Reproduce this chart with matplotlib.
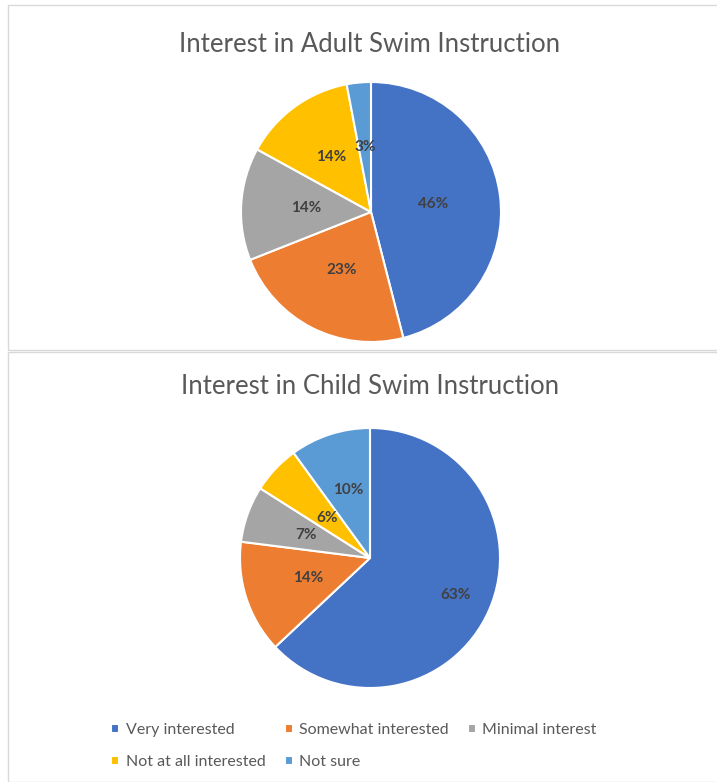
# Deux camemberts empilés : intérêt pour les cours de natation (adultes / enfants)
import numpy as np
import matplotlib.pyplot as plt
from matplotlib.patches import Rectangle

plt.rcParams['font.family'] = ['Lato', 'DejaVu Sans']

categories = ['Very interested', 'Somewhat interested', 'Minimal interest',
              'Not at all interested', 'Not sure']
adult_values = [46, 23, 14, 14, 3]
child_values = [63, 14, 7, 6, 10]
titles = ['Interest in Adult Swim Instruction', 'Interest in Child Swim Instruction']

colors = ['#4472C4', '#ED7D31', '#A5A5A5', '#FFC000', '#5B9BD5']
label_color = '#404040'

fig = plt.figure(figsize=(7.17, 7.82), dpi=100)
W, H = 717, 782

# cadres gris clair des deux graphiques
fig.patches.append(Rectangle((8 / W, 1 - 350 / H), 720 / W, 345 / H, transform=fig.transFigure,
                             fill=False, edgecolor='#d9d9d9', linewidth=1))
fig.patches.append(Rectangle((8 / W, 0), 720 / W, 1 - 352 / H, transform=fig.transFigure,
                             fill=False, edgecolor='#d9d9d9', linewidth=1))


def draw_pie(box, values, title, title_y, label_dist):
    ax = fig.add_axes(box)
    wedges, _ = ax.pie(values, colors=colors, startangle=90, counterclock=False,
                       wedgeprops=dict(edgecolor='white', linewidth=1.5))
    for w, v, d in zip(wedges, values, label_dist):
        ang = np.deg2rad((w.theta1 + w.theta2) / 2)
        ax.text(d * np.cos(ang), d * np.sin(ang), f'{v}%', ha='center', va='center',
                fontsize=11, fontweight='bold', color=label_color)
    ax.set_xlim(-1, 1)
    ax.set_ylim(-1, 1)
    ax.set_aspect('equal')
    fig.text(370 / W, 1 - title_y / H, title, ha='center', va='center',
             fontsize=18.5, color='#595959')
    return wedges


box_adult = [241 / W, 1 - 342 / H, 260 / W, 260 / H]
box_child = [240 / W, 1 - 688 / H, 260 / W, 260 / H]

draw_pie(box_adult, adult_values, titles[0], 44, [0.48, 0.5, 0.5, 0.52, 0.5])
wedges = draw_pie(box_child, child_values, titles[1], 387, [0.72, 0.5, 0.52, 0.45, 0.55])

# ordre pour remplir la légende ligne par ligne (matplotlib remplit par colonnes)
order = [0, 3, 1, 4, 2]
leg = fig.legend([wedges[i] for i in order], [categories[i] for i in order],
                 loc='upper left', bbox_to_anchor=(97 / W, 1 - 709 / H),
                 ncol=3, frameon=False, fontsize=11.5, handlelength=0.5, handleheight=0.5,
                 handletextpad=0.4, columnspacing=1.2, labelspacing=1.1)
for t in leg.get_texts():
    t.set_color('#595959')

plt.savefig('out.png', dpi=100)
